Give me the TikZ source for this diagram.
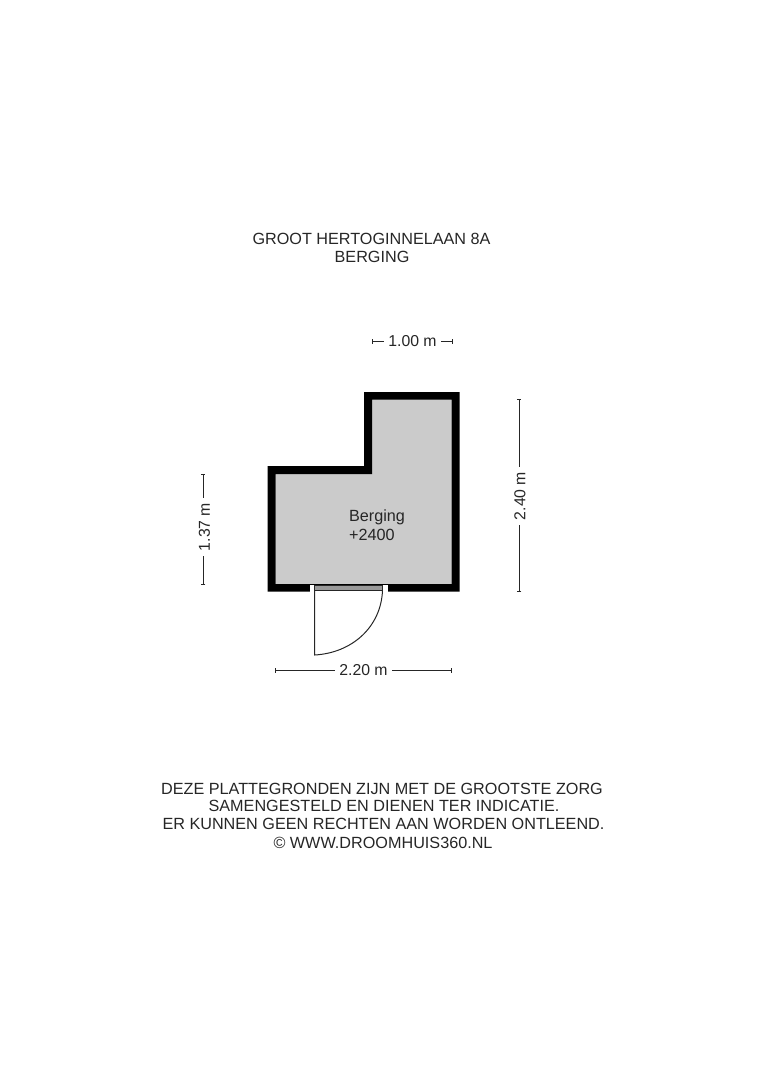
\documentclass[tikz,border=0pt]{standalone}
\usepackage{fontspec}
\setmainfont{Liberation Sans}
\usetikzlibrary{arrows.meta}
\definecolor{roomgray}{HTML}{CBCBCB}
\definecolor{inkgray}{HTML}{262626}
\tikzset{
    label/.style={text=inkgray, font=\fontsize{16.2}{19}\selectfont, inner sep=0pt},
    dimlabel/.style={label, font=\fontsize{15.8}{19}\selectfont, fill=white, inner xsep=4.5pt, inner ysep=3pt},
    dimline/.style={draw=inkgray, line width=0.9pt, {Bar[width=4.5pt,line width=0.9pt]}-},
    wall/.style={fill=black, even odd rule},
    doorline/.style={draw=inkgray, line width=1pt}
}

\begin{document}
\begin{tikzpicture}[x=1pt, y=-1pt]
            \useasboundingbox (0,0) rectangle (764,1080);

            % walls and floor
            \fill[roomgray] (372,399) -- (451.5,399) -- (451.5,584) -- (275.5,584) -- (275.5,474) -- (372,474) -- cycle;
            \fill[wall] (364,392) -- (459.5,392) -- (459.5,591.5) -- (267.5,591.5) -- (267.5,466) -- (364,466) -- cycle
                (372,399.5) -- (451.5,399.5) -- (451.5,584) -- (275.5,584) -- (275.5,474) -- (372,474) -- cycle;

            % door
            \fill[white] (309.5,584.5) rectangle (387.5,591.5);
            \fill[gray!80] (314.5,585) rectangle (382.5,590.5);
            \draw[doorline] (314.5,585) rectangle (382.5,590.5);
            \coordinate (hinge) at (314.5,590.5);
            \coordinate (leaf) at (314.5,655);
            \coordinate (jamb) at (382.5,590.5);
            \draw[doorline] (hinge) -- (leaf) .. controls (352,653) and (381,627) .. (jamb);

            % texts
            \node[label] (title1) at (371.5,239) {GROOT HERTOGINNELAAN 8A};
            \node[label] (title2) at (372,257) {BERGING};
            \node[label, align=left] (room) at (377,525.5) {Berging\\+2400};
            \node[label] (note1) at (382,788.5) {DEZE PLATTEGRONDEN ZIJN MET DE GROOTSTE ZORG};
            \node[label] (note2) at (384,806) {SAMENGESTELD EN DIENEN TER INDICATIE.};
            \node[label] (note3) at (383.5,824) {ER KUNNEN GEEN RECHTEN AAN WORDEN ONTLEEND.};
            \node[label] (note4) at (383,842.5) {\textcopyright{} WWW.DROOMHUIS360.NL};

            % dimensions
            \node[dimlabel] (dim100) at (412.5,341.5) {1.00 m};
            \coordinate (dim100a) at (371.5,341.5);
            \coordinate (dim100b) at (453,341.5);
            \draw[dimline] (dim100a) -- (dim100);
            \draw[dimline] (dim100b) -- (dim100);

            \node[dimlabel, rotate=90] (dim240) at (520,496) {2.40 m};
            \coordinate (dim240a) at (519,399);
            \coordinate (dim240b) at (519,592);
            \draw[dimline] (dim240a) -- (dim240a |- dim240.east);
            \draw[dimline] (dim240b) -- (dim240b |- dim240.west);

            \node[dimlabel, rotate=90] (dim137) at (204.5,527) {1.37 m};
            \coordinate (dim137a) at (203,473.5);
            \coordinate (dim137b) at (203,584.5);
            \draw[dimline] (dim137a) -- (dim137a |- dim137.east);
            \draw[dimline] (dim137b) -- (dim137b |- dim137.west);

            \node[dimlabel] (dim220) at (363.5,670.5) {2.20 m};
            \coordinate (dim220a) at (275,670.5);
            \coordinate (dim220b) at (452,670.5);
            \draw[dimline] (dim220a) -- (dim220);
            \draw[dimline] (dim220b) -- (dim220);

        \end{tikzpicture}
\end{document}
